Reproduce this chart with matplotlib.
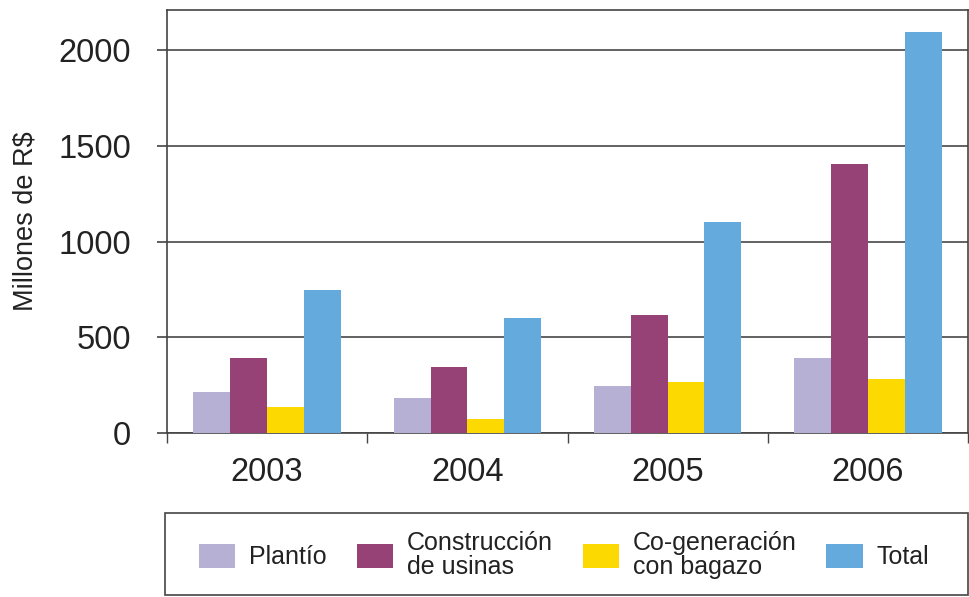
import numpy as np
import matplotlib
matplotlib.use("Agg")
import matplotlib.pyplot as plt
from matplotlib.patches import Rectangle

plt.rcParams['font.family'] = ['Liberation Sans', 'DejaVu Sans']

years = ["2003", "2004", "2005", "2006"]
series = ["Plantío", "Construcción\nde usinas", "Co-generación\ncon bagazo", "Total"]
plantio = [212, 185, 247, 392]
construccion = [392, 345, 618, 1405]
cogeneracion = [136, 73, 265, 281]
total = [746, 601, 1102, 2097]
colors = ["#b6b0d5", "#964277", "#fcd900", "#65aadc"]

values = [plantio, construccion, cogeneracion, total]

fig = plt.figure(figsize=(9.69, 5.97), dpi=100)
ax = fig.add_axes([167/969, (597-433)/597, 801/969, 423/597])

x = np.arange(len(years))
w = 0.184
for i, vals in enumerate(values):
    ax.bar(x - 1.5*w + i*w, vals, width=w, color=colors[i], zorder=3,
           label=series[i])

ax.set_xlim(-0.5, 3.5)
ax.set_ylim(0, 2210)
ax.set_yticks([0, 500, 1000, 1500, 2000])
ax.yaxis.grid(True, color="#555555", linewidth=1.3, zorder=1)
ax.set_xticks(x)
ax.set_xticklabels(years)
ax.set_xticks([-0.5, 0.5, 1.5, 2.5, 3.5], minor=True)
ax.tick_params(axis='x', which='major', length=0, pad=17, labelsize=23.5,
               labelcolor="#222222")
ax.tick_params(axis='x', which='minor', length=7, width=1, color="#444444")
ax.tick_params(axis='y', length=7, width=1.2, color="#444444", labelsize=23.5,
               pad=19, labelcolor="#222222")
for s in ax.spines.values():
    s.set_color("#444444")
    s.set_linewidth(1.2)
ax.set_ylabel("Millones de R$", fontsize=19.5, labelpad=14, color="#222222")

# legend box
handles, labels = ax.get_legend_handles_labels()
leg = fig.legend(handles, labels, ncol=4, loc='center',
                 bbox_to_anchor=(564/969, 42/597), fontsize=18,
                 frameon=False, handlelength=1.45, handleheight=1.1,
                 columnspacing=1.2, handletextpad=0.55, labelspacing=0.1)
for t in leg.get_texts():
    t.set_color("#222222")
    t.set_linespacing(1.05)
fig.patches.append(Rectangle((165/969, 2/597), 803/969, 82/597,
                             transform=fig.transFigure, fill=False,
                             edgecolor="#444444", linewidth=1.2))

fig.savefig("out.png", dpi=100)
